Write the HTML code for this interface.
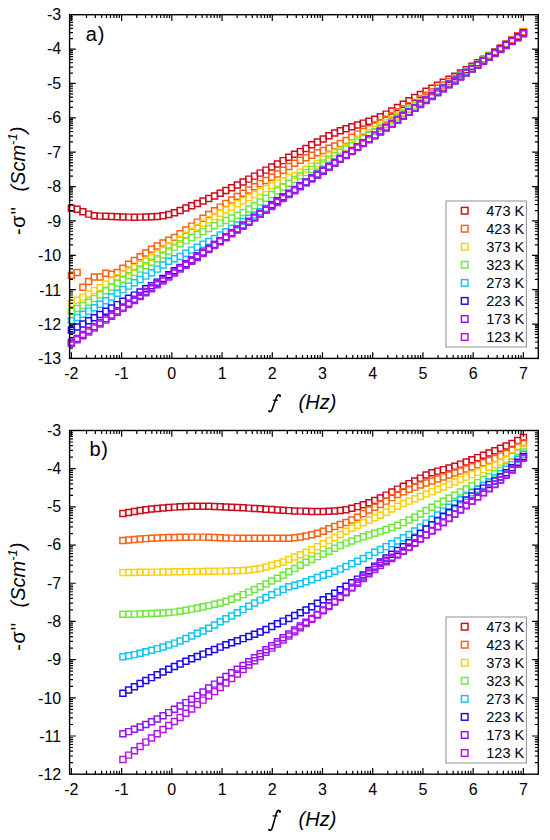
<!DOCTYPE html>
<html><head><meta charset="utf-8"><style>
html,body{margin:0;padding:0;background:#fff;overflow:hidden}
svg{display:block}
text{font-family:"Liberation Sans",sans-serif;fill:#000}
.tl{font-size:16px}
.lg{font-size:14.5px}
.pl{font-size:20px}
.fl{font-family:"Liberation Serif",serif;font-style:italic;font-size:20px}
.hz{font-style:italic;font-size:20px}
.yl{font-size:20px}
</style></head><body>
<svg width="550" height="840" viewBox="0 0 550 840">
<rect width="550" height="840" fill="#fff"/>
<path d="M68.4 205.2h6.0v6.0h-6.0zM74.1 206.3h6.0v6.0h-6.0zM79.9 208.7h6.0v6.0h-6.0zM85.6 211.1h6.0v6.0h-6.0zM91.3 212.8h6.0v6.0h-6.0zM97.0 213.1h6.0v6.0h-6.0zM102.8 213.3h6.0v6.0h-6.0zM108.5 213.5h6.0v6.0h-6.0zM114.2 213.7h6.0v6.0h-6.0zM119.9 214.0h6.0v6.0h-6.0zM125.6 214.1h6.0v6.0h-6.0zM131.4 214.2h6.0v6.0h-6.0zM137.1 214.1h6.0v6.0h-6.0zM142.8 214.0h6.0v6.0h-6.0zM148.5 213.8h6.0v6.0h-6.0zM154.2 213.5h6.0v6.0h-6.0zM160.0 212.8h6.0v6.0h-6.0zM165.7 211.5h6.0v6.0h-6.0zM171.4 209.7h6.0v6.0h-6.0zM177.1 207.5h6.0v6.0h-6.0zM182.9 205.0h6.0v6.0h-6.0zM188.6 202.7h6.0v6.0h-6.0zM194.3 200.4h6.0v6.0h-6.0zM200.0 198.0h6.0v6.0h-6.0zM205.7 195.5h6.0v6.0h-6.0zM211.5 192.9h6.0v6.0h-6.0zM217.2 190.2h6.0v6.0h-6.0zM222.9 187.5h6.0v6.0h-6.0zM228.6 184.7h6.0v6.0h-6.0zM234.3 181.9h6.0v6.0h-6.0zM240.1 179.0h6.0v6.0h-6.0zM245.8 176.1h6.0v6.0h-6.0zM251.5 173.1h6.0v6.0h-6.0zM257.2 170.1h6.0v6.0h-6.0zM262.9 167.1h6.0v6.0h-6.0zM268.7 164.0h6.0v6.0h-6.0zM274.4 160.9h6.0v6.0h-6.0zM280.1 157.6h6.0v6.0h-6.0zM285.8 154.3h6.0v6.0h-6.0zM291.6 151.3h6.0v6.0h-6.0zM297.3 148.6h6.0v6.0h-6.0zM303.0 145.4h6.0v6.0h-6.0zM308.7 141.8h6.0v6.0h-6.0zM314.4 139.0h6.0v6.0h-6.0zM320.2 135.9h6.0v6.0h-6.0zM325.9 132.8h6.0v6.0h-6.0zM331.6 129.9h6.0v6.0h-6.0zM337.3 127.7h6.0v6.0h-6.0zM343.0 125.7h6.0v6.0h-6.0zM348.8 123.8h6.0v6.0h-6.0zM354.5 122.0h6.0v6.0h-6.0zM360.2 120.1h6.0v6.0h-6.0zM365.9 118.2h6.0v6.0h-6.0zM371.7 116.2h6.0v6.0h-6.0zM377.4 113.8h6.0v6.0h-6.0zM383.1 111.1h6.0v6.0h-6.0zM388.8 107.9h6.0v6.0h-6.0zM394.5 104.5h6.0v6.0h-6.0zM400.3 101.2h6.0v6.0h-6.0zM406.0 97.8h6.0v6.0h-6.0zM411.7 94.5h6.0v6.0h-6.0zM417.4 91.4h6.0v6.0h-6.0zM423.1 88.3h6.0v6.0h-6.0zM428.9 85.2h6.0v6.0h-6.0zM434.6 82.2h6.0v6.0h-6.0zM440.3 79.2h6.0v6.0h-6.0zM446.0 76.3h6.0v6.0h-6.0zM451.7 73.2h6.0v6.0h-6.0zM457.5 70.0h6.0v6.0h-6.0zM463.2 66.6h6.0v6.0h-6.0zM468.9 63.2h6.0v6.0h-6.0zM474.6 59.8h6.0v6.0h-6.0zM480.4 56.2h6.0v6.0h-6.0zM486.1 52.5h6.0v6.0h-6.0zM491.8 48.8h6.0v6.0h-6.0zM497.5 45.0h6.0v6.0h-6.0zM503.2 41.0h6.0v6.0h-6.0zM509.0 37.0h6.0v6.0h-6.0zM514.7 32.8h6.0v6.0h-6.0zM520.4 28.6h6.0v6.0h-6.0z" fill="none" stroke="#cc0a1e" stroke-width="1.45"/><path d="M68.4 272.2h6.0v6.0h-6.0zM74.1 269.5h6.0v6.0h-6.0zM79.9 284.3h6.0v6.0h-6.0zM85.6 278.4h6.0v6.0h-6.0zM91.3 274.0h6.0v6.0h-6.0zM97.0 274.0h6.0v6.0h-6.0zM102.8 270.2h6.0v6.0h-6.0zM108.5 271.2h6.0v6.0h-6.0zM114.2 269.5h6.0v6.0h-6.0zM119.9 265.2h6.0v6.0h-6.0zM125.6 261.2h6.0v6.0h-6.0zM131.4 257.5h6.0v6.0h-6.0zM137.1 253.7h6.0v6.0h-6.0zM142.8 249.9h6.0v6.0h-6.0zM148.5 246.3h6.0v6.0h-6.0zM154.2 243.0h6.0v6.0h-6.0zM160.0 239.9h6.0v6.0h-6.0zM165.7 237.3h6.0v6.0h-6.0zM171.4 234.4h6.0v6.0h-6.0zM177.1 230.8h6.0v6.0h-6.0zM182.9 226.9h6.0v6.0h-6.0zM188.6 223.1h6.0v6.0h-6.0zM194.3 219.1h6.0v6.0h-6.0zM200.0 215.2h6.0v6.0h-6.0zM205.7 211.4h6.0v6.0h-6.0zM211.5 207.7h6.0v6.0h-6.0zM217.2 204.1h6.0v6.0h-6.0zM222.9 200.5h6.0v6.0h-6.0zM228.6 197.0h6.0v6.0h-6.0zM234.3 193.5h6.0v6.0h-6.0zM240.1 190.2h6.0v6.0h-6.0zM245.8 187.0h6.0v6.0h-6.0zM251.5 183.8h6.0v6.0h-6.0zM257.2 180.6h6.0v6.0h-6.0zM262.9 177.4h6.0v6.0h-6.0zM268.7 174.2h6.0v6.0h-6.0zM274.4 170.9h6.0v6.0h-6.0zM280.1 167.2h6.0v6.0h-6.0zM285.8 163.5h6.0v6.0h-6.0zM291.6 160.2h6.0v6.0h-6.0zM297.3 157.3h6.0v6.0h-6.0zM303.0 154.7h6.0v6.0h-6.0zM308.7 152.2h6.0v6.0h-6.0zM314.4 149.8h6.0v6.0h-6.0zM320.2 147.5h6.0v6.0h-6.0zM325.9 145.3h6.0v6.0h-6.0zM331.6 143.0h6.0v6.0h-6.0zM337.3 140.4h6.0v6.0h-6.0zM343.0 137.5h6.0v6.0h-6.0zM348.8 134.3h6.0v6.0h-6.0zM354.5 131.1h6.0v6.0h-6.0zM360.2 128.4h6.0v6.0h-6.0zM365.9 125.7h6.0v6.0h-6.0zM371.7 122.9h6.0v6.0h-6.0zM377.4 119.8h6.0v6.0h-6.0zM383.1 116.3h6.0v6.0h-6.0zM388.8 112.5h6.0v6.0h-6.0zM394.5 108.8h6.0v6.0h-6.0zM400.3 105.6h6.0v6.0h-6.0zM406.0 102.6h6.0v6.0h-6.0zM411.7 99.4h6.0v6.0h-6.0zM417.4 95.9h6.0v6.0h-6.0zM423.1 92.3h6.0v6.0h-6.0zM428.9 88.7h6.0v6.0h-6.0zM434.6 85.2h6.0v6.0h-6.0zM440.3 81.9h6.0v6.0h-6.0zM446.0 78.6h6.0v6.0h-6.0zM451.7 75.2h6.0v6.0h-6.0zM457.5 71.7h6.0v6.0h-6.0zM463.2 68.1h6.0v6.0h-6.0zM468.9 64.4h6.0v6.0h-6.0zM474.6 60.7h6.0v6.0h-6.0zM480.4 57.0h6.0v6.0h-6.0zM486.1 53.2h6.0v6.0h-6.0zM491.8 49.3h6.0v6.0h-6.0zM497.5 45.4h6.0v6.0h-6.0zM503.2 41.4h6.0v6.0h-6.0zM509.0 37.3h6.0v6.0h-6.0zM514.7 33.1h6.0v6.0h-6.0zM520.4 28.9h6.0v6.0h-6.0z" fill="none" stroke="#ff6010" stroke-width="1.45"/><path d="M68.4 300.4h6.0v6.0h-6.0zM74.1 297.3h6.0v6.0h-6.0zM79.9 294.1h6.0v6.0h-6.0zM85.6 290.9h6.0v6.0h-6.0zM91.3 287.6h6.0v6.0h-6.0zM97.0 284.4h6.0v6.0h-6.0zM102.8 281.1h6.0v6.0h-6.0zM108.5 277.8h6.0v6.0h-6.0zM114.2 274.5h6.0v6.0h-6.0zM119.9 271.2h6.0v6.0h-6.0zM125.6 267.9h6.0v6.0h-6.0zM131.4 264.6h6.0v6.0h-6.0zM137.1 261.3h6.0v6.0h-6.0zM142.8 257.9h6.0v6.0h-6.0zM148.5 254.5h6.0v6.0h-6.0zM154.2 250.9h6.0v6.0h-6.0zM160.0 247.2h6.0v6.0h-6.0zM165.7 243.0h6.0v6.0h-6.0zM171.4 239.6h6.0v6.0h-6.0zM177.1 236.2h6.0v6.0h-6.0zM182.9 232.3h6.0v6.0h-6.0zM188.6 228.2h6.0v6.0h-6.0zM194.3 224.2h6.0v6.0h-6.0zM200.0 220.3h6.0v6.0h-6.0zM205.7 216.8h6.0v6.0h-6.0zM211.5 213.4h6.0v6.0h-6.0zM217.2 210.2h6.0v6.0h-6.0zM222.9 207.0h6.0v6.0h-6.0zM228.6 203.9h6.0v6.0h-6.0zM234.3 200.8h6.0v6.0h-6.0zM240.1 197.7h6.0v6.0h-6.0zM245.8 194.6h6.0v6.0h-6.0zM251.5 191.5h6.0v6.0h-6.0zM257.2 188.5h6.0v6.0h-6.0zM262.9 185.6h6.0v6.0h-6.0zM268.7 182.8h6.0v6.0h-6.0zM274.4 180.1h6.0v6.0h-6.0zM280.1 177.7h6.0v6.0h-6.0zM285.8 174.6h6.0v6.0h-6.0zM291.6 172.4h6.0v6.0h-6.0zM297.3 169.1h6.0v6.0h-6.0zM303.0 166.2h6.0v6.0h-6.0zM308.7 163.1h6.0v6.0h-6.0zM314.4 160.5h6.0v6.0h-6.0zM320.2 156.0h6.0v6.0h-6.0zM325.9 151.9h6.0v6.0h-6.0zM331.6 149.7h6.0v6.0h-6.0zM337.3 147.2h6.0v6.0h-6.0zM343.0 144.2h6.0v6.0h-6.0zM348.8 140.8h6.0v6.0h-6.0zM354.5 137.2h6.0v6.0h-6.0zM360.2 133.5h6.0v6.0h-6.0zM365.9 129.8h6.0v6.0h-6.0zM371.7 126.2h6.0v6.0h-6.0zM377.4 122.8h6.0v6.0h-6.0zM383.1 119.6h6.0v6.0h-6.0zM388.8 116.4h6.0v6.0h-6.0zM394.5 113.0h6.0v6.0h-6.0zM400.3 109.5h6.0v6.0h-6.0zM406.0 105.8h6.0v6.0h-6.0zM411.7 102.3h6.0v6.0h-6.0zM417.4 98.7h6.0v6.0h-6.0zM423.1 95.2h6.0v6.0h-6.0zM428.9 91.6h6.0v6.0h-6.0zM434.6 88.0h6.0v6.0h-6.0zM440.3 84.2h6.0v6.0h-6.0zM446.0 80.5h6.0v6.0h-6.0zM451.7 76.8h6.0v6.0h-6.0zM457.5 73.0h6.0v6.0h-6.0zM463.2 69.2h6.0v6.0h-6.0zM468.9 65.3h6.0v6.0h-6.0zM474.6 61.5h6.0v6.0h-6.0zM480.4 57.6h6.0v6.0h-6.0zM486.1 53.6h6.0v6.0h-6.0zM491.8 49.7h6.0v6.0h-6.0zM497.5 45.6h6.0v6.0h-6.0zM503.2 41.6h6.0v6.0h-6.0zM509.0 37.5h6.0v6.0h-6.0zM514.7 33.4h6.0v6.0h-6.0zM520.4 29.3h6.0v6.0h-6.0z" fill="none" stroke="#ffd000" stroke-width="1.45"/><path d="M68.4 308.3h6.0v6.0h-6.0zM74.1 305.5h6.0v6.0h-6.0zM79.9 302.5h6.0v6.0h-6.0zM85.6 299.2h6.0v6.0h-6.0zM91.3 295.6h6.0v6.0h-6.0zM97.0 291.8h6.0v6.0h-6.0zM102.8 287.8h6.0v6.0h-6.0zM108.5 283.9h6.0v6.0h-6.0zM114.2 280.0h6.0v6.0h-6.0zM119.9 276.3h6.0v6.0h-6.0zM125.6 272.7h6.0v6.0h-6.0zM131.4 269.4h6.0v6.0h-6.0zM137.1 266.0h6.0v6.0h-6.0zM142.8 262.7h6.0v6.0h-6.0zM148.5 259.3h6.0v6.0h-6.0zM154.2 255.7h6.0v6.0h-6.0zM160.0 252.0h6.0v6.0h-6.0zM165.7 247.9h6.0v6.0h-6.0zM171.4 244.1h6.0v6.0h-6.0zM177.1 240.7h6.0v6.0h-6.0zM182.9 237.6h6.0v6.0h-6.0zM188.6 234.6h6.0v6.0h-6.0zM194.3 231.6h6.0v6.0h-6.0zM200.0 228.6h6.0v6.0h-6.0zM205.7 225.5h6.0v6.0h-6.0zM211.5 222.7h6.0v6.0h-6.0zM217.2 220.1h6.0v6.0h-6.0zM222.9 217.5h6.0v6.0h-6.0zM228.6 215.0h6.0v6.0h-6.0zM234.3 212.3h6.0v6.0h-6.0zM240.1 209.4h6.0v6.0h-6.0zM245.8 206.0h6.0v6.0h-6.0zM251.5 202.5h6.0v6.0h-6.0zM257.2 198.9h6.0v6.0h-6.0zM262.9 195.2h6.0v6.0h-6.0zM268.7 191.4h6.0v6.0h-6.0zM274.4 187.7h6.0v6.0h-6.0zM280.1 184.0h6.0v6.0h-6.0zM285.8 180.2h6.0v6.0h-6.0zM291.6 176.5h6.0v6.0h-6.0zM297.3 172.9h6.0v6.0h-6.0zM303.0 169.6h6.0v6.0h-6.0zM308.7 166.4h6.0v6.0h-6.0zM314.4 163.3h6.0v6.0h-6.0zM320.2 159.9h6.0v6.0h-6.0zM325.9 156.2h6.0v6.0h-6.0zM331.6 152.7h6.0v6.0h-6.0zM337.3 149.3h6.0v6.0h-6.0zM343.0 146.0h6.0v6.0h-6.0zM348.8 142.6h6.0v6.0h-6.0zM354.5 139.1h6.0v6.0h-6.0zM360.2 135.6h6.0v6.0h-6.0zM365.9 132.1h6.0v6.0h-6.0zM371.7 128.6h6.0v6.0h-6.0zM377.4 125.0h6.0v6.0h-6.0zM383.1 121.4h6.0v6.0h-6.0zM388.8 117.7h6.0v6.0h-6.0zM394.5 114.1h6.0v6.0h-6.0zM400.3 110.4h6.0v6.0h-6.0zM406.0 106.7h6.0v6.0h-6.0zM411.7 103.0h6.0v6.0h-6.0zM417.4 99.3h6.0v6.0h-6.0zM423.1 95.6h6.0v6.0h-6.0zM428.9 91.8h6.0v6.0h-6.0zM434.6 88.0h6.0v6.0h-6.0zM440.3 84.2h6.0v6.0h-6.0zM446.0 80.4h6.0v6.0h-6.0zM451.7 76.5h6.0v6.0h-6.0zM457.5 72.7h6.0v6.0h-6.0zM463.2 68.8h6.0v6.0h-6.0zM468.9 65.0h6.0v6.0h-6.0zM474.6 61.1h6.0v6.0h-6.0zM480.4 57.2h6.0v6.0h-6.0zM486.1 53.3h6.0v6.0h-6.0zM491.8 49.4h6.0v6.0h-6.0zM497.5 45.5h6.0v6.0h-6.0zM503.2 41.5h6.0v6.0h-6.0zM509.0 37.6h6.0v6.0h-6.0zM514.7 33.6h6.0v6.0h-6.0zM520.4 29.6h6.0v6.0h-6.0z" fill="none" stroke="#6ee83c" stroke-width="1.45"/><path d="M68.4 317.6h6.0v6.0h-6.0zM74.1 314.5h6.0v6.0h-6.0zM79.9 311.3h6.0v6.0h-6.0zM85.6 308.1h6.0v6.0h-6.0zM91.3 304.7h6.0v6.0h-6.0zM97.0 301.3h6.0v6.0h-6.0zM102.8 297.7h6.0v6.0h-6.0zM108.5 294.0h6.0v6.0h-6.0zM114.2 290.2h6.0v6.0h-6.0zM119.9 286.6h6.0v6.0h-6.0zM125.6 283.1h6.0v6.0h-6.0zM131.4 279.8h6.0v6.0h-6.0zM137.1 276.5h6.0v6.0h-6.0zM142.8 273.1h6.0v6.0h-6.0zM148.5 269.7h6.0v6.0h-6.0zM154.2 266.1h6.0v6.0h-6.0zM160.0 261.9h6.0v6.0h-6.0zM165.7 258.2h6.0v6.0h-6.0zM171.4 255.7h6.0v6.0h-6.0zM177.1 253.4h6.0v6.0h-6.0zM182.9 250.3h6.0v6.0h-6.0zM188.6 247.1h6.0v6.0h-6.0zM194.3 244.2h6.0v6.0h-6.0zM200.0 241.3h6.0v6.0h-6.0zM205.7 238.5h6.0v6.0h-6.0zM211.5 235.5h6.0v6.0h-6.0zM217.2 232.0h6.0v6.0h-6.0zM222.9 228.7h6.0v6.0h-6.0zM228.6 225.3h6.0v6.0h-6.0zM234.3 222.0h6.0v6.0h-6.0zM240.1 218.6h6.0v6.0h-6.0zM245.8 215.3h6.0v6.0h-6.0zM251.5 212.0h6.0v6.0h-6.0zM257.2 208.6h6.0v6.0h-6.0zM262.9 205.1h6.0v6.0h-6.0zM268.7 201.4h6.0v6.0h-6.0zM274.4 197.7h6.0v6.0h-6.0zM280.1 193.9h6.0v6.0h-6.0zM285.8 190.1h6.0v6.0h-6.0zM291.6 186.3h6.0v6.0h-6.0zM297.3 182.5h6.0v6.0h-6.0zM303.0 178.6h6.0v6.0h-6.0zM308.7 174.7h6.0v6.0h-6.0zM314.4 170.9h6.0v6.0h-6.0zM320.2 167.0h6.0v6.0h-6.0zM325.9 163.1h6.0v6.0h-6.0zM331.6 159.3h6.0v6.0h-6.0zM337.3 155.4h6.0v6.0h-6.0zM343.0 151.5h6.0v6.0h-6.0zM348.8 147.6h6.0v6.0h-6.0zM354.5 143.8h6.0v6.0h-6.0zM360.2 139.9h6.0v6.0h-6.0zM365.9 136.0h6.0v6.0h-6.0zM371.7 132.1h6.0v6.0h-6.0zM377.4 128.2h6.0v6.0h-6.0zM383.1 124.3h6.0v6.0h-6.0zM388.8 120.4h6.0v6.0h-6.0zM394.5 116.5h6.0v6.0h-6.0zM400.3 112.6h6.0v6.0h-6.0zM406.0 108.6h6.0v6.0h-6.0zM411.7 104.7h6.0v6.0h-6.0zM417.4 100.8h6.0v6.0h-6.0zM423.1 96.9h6.0v6.0h-6.0zM428.9 92.9h6.0v6.0h-6.0zM434.6 89.0h6.0v6.0h-6.0zM440.3 85.1h6.0v6.0h-6.0zM446.0 81.1h6.0v6.0h-6.0zM451.7 77.2h6.0v6.0h-6.0zM457.5 73.3h6.0v6.0h-6.0zM463.2 69.3h6.0v6.0h-6.0zM468.9 65.4h6.0v6.0h-6.0zM474.6 61.4h6.0v6.0h-6.0zM480.4 57.5h6.0v6.0h-6.0zM486.1 53.5h6.0v6.0h-6.0zM491.8 49.6h6.0v6.0h-6.0zM497.5 45.6h6.0v6.0h-6.0zM503.2 41.7h6.0v6.0h-6.0zM509.0 37.7h6.0v6.0h-6.0zM514.7 33.7h6.0v6.0h-6.0zM520.4 29.8h6.0v6.0h-6.0z" fill="none" stroke="#10c4f4" stroke-width="1.45"/><path d="M68.4 326.9h6.0v6.0h-6.0zM74.1 323.9h6.0v6.0h-6.0zM79.9 320.9h6.0v6.0h-6.0zM85.6 317.8h6.0v6.0h-6.0zM91.3 314.7h6.0v6.0h-6.0zM97.0 311.5h6.0v6.0h-6.0zM102.8 308.3h6.0v6.0h-6.0zM108.5 304.9h6.0v6.0h-6.0zM114.2 301.6h6.0v6.0h-6.0zM119.9 298.3h6.0v6.0h-6.0zM125.6 295.2h6.0v6.0h-6.0zM131.4 292.1h6.0v6.0h-6.0zM137.1 289.0h6.0v6.0h-6.0zM142.8 285.8h6.0v6.0h-6.0zM148.5 282.6h6.0v6.0h-6.0zM154.2 279.1h6.0v6.0h-6.0zM160.0 275.4h6.0v6.0h-6.0zM165.7 271.6h6.0v6.0h-6.0zM171.4 267.8h6.0v6.0h-6.0zM177.1 264.4h6.0v6.0h-6.0zM182.9 260.7h6.0v6.0h-6.0zM188.6 256.9h6.0v6.0h-6.0zM194.3 253.0h6.0v6.0h-6.0zM200.0 249.2h6.0v6.0h-6.0zM205.7 245.4h6.0v6.0h-6.0zM211.5 241.7h6.0v6.0h-6.0zM217.2 237.9h6.0v6.0h-6.0zM222.9 234.1h6.0v6.0h-6.0zM228.6 230.2h6.0v6.0h-6.0zM234.3 226.4h6.0v6.0h-6.0zM240.1 222.8h6.0v6.0h-6.0zM245.8 219.3h6.0v6.0h-6.0zM251.5 214.5h6.0v6.0h-6.0zM257.2 210.7h6.0v6.0h-6.0zM262.9 206.4h6.0v6.0h-6.0zM268.7 201.9h6.0v6.0h-6.0zM274.4 197.7h6.0v6.0h-6.0zM280.1 193.9h6.0v6.0h-6.0zM285.8 190.4h6.0v6.0h-6.0zM291.6 186.7h6.0v6.0h-6.0zM297.3 182.7h6.0v6.0h-6.0zM303.0 179.5h6.0v6.0h-6.0zM308.7 175.2h6.0v6.0h-6.0zM314.4 171.9h6.0v6.0h-6.0zM320.2 168.2h6.0v6.0h-6.0zM325.9 164.3h6.0v6.0h-6.0zM331.6 160.2h6.0v6.0h-6.0zM337.3 156.1h6.0v6.0h-6.0zM343.0 152.0h6.0v6.0h-6.0zM348.8 148.1h6.0v6.0h-6.0zM354.5 144.2h6.0v6.0h-6.0zM360.2 140.2h6.0v6.0h-6.0zM365.9 136.3h6.0v6.0h-6.0zM371.7 132.4h6.0v6.0h-6.0zM377.4 128.5h6.0v6.0h-6.0zM383.1 124.6h6.0v6.0h-6.0zM388.8 120.7h6.0v6.0h-6.0zM394.5 116.8h6.0v6.0h-6.0zM400.3 112.9h6.0v6.0h-6.0zM406.0 109.0h6.0v6.0h-6.0zM411.7 105.1h6.0v6.0h-6.0zM417.4 101.1h6.0v6.0h-6.0zM423.1 97.2h6.0v6.0h-6.0zM428.9 93.3h6.0v6.0h-6.0zM434.6 89.4h6.0v6.0h-6.0zM440.3 85.4h6.0v6.0h-6.0zM446.0 81.5h6.0v6.0h-6.0zM451.7 77.5h6.0v6.0h-6.0zM457.5 73.6h6.0v6.0h-6.0zM463.2 69.6h6.0v6.0h-6.0zM468.9 65.7h6.0v6.0h-6.0zM474.6 61.7h6.0v6.0h-6.0zM480.4 57.8h6.0v6.0h-6.0zM486.1 53.8h6.0v6.0h-6.0zM491.8 49.8h6.0v6.0h-6.0zM497.5 45.9h6.0v6.0h-6.0zM503.2 41.9h6.0v6.0h-6.0zM509.0 37.9h6.0v6.0h-6.0zM514.7 33.9h6.0v6.0h-6.0zM520.4 29.9h6.0v6.0h-6.0z" fill="none" stroke="#1a08f0" stroke-width="1.45"/><path d="M68.4 339.3h6.0v6.0h-6.0zM74.1 335.4h6.0v6.0h-6.0zM79.9 331.5h6.0v6.0h-6.0zM85.6 327.5h6.0v6.0h-6.0zM91.3 323.6h6.0v6.0h-6.0zM97.0 319.7h6.0v6.0h-6.0zM102.8 315.8h6.0v6.0h-6.0zM108.5 311.9h6.0v6.0h-6.0zM114.2 308.0h6.0v6.0h-6.0zM119.9 304.1h6.0v6.0h-6.0zM125.6 300.2h6.0v6.0h-6.0zM131.4 296.3h6.0v6.0h-6.0zM137.1 292.4h6.0v6.0h-6.0zM142.8 288.5h6.0v6.0h-6.0zM148.5 284.5h6.0v6.0h-6.0zM154.2 280.6h6.0v6.0h-6.0zM160.0 276.7h6.0v6.0h-6.0zM165.7 272.8h6.0v6.0h-6.0zM171.4 268.9h6.0v6.0h-6.0zM177.1 265.0h6.0v6.0h-6.0zM182.9 261.1h6.0v6.0h-6.0zM188.6 257.2h6.0v6.0h-6.0zM194.3 253.3h6.0v6.0h-6.0zM200.0 249.4h6.0v6.0h-6.0zM205.7 245.5h6.0v6.0h-6.0zM211.5 241.5h6.0v6.0h-6.0zM217.2 237.6h6.0v6.0h-6.0zM222.9 233.7h6.0v6.0h-6.0zM228.6 229.8h6.0v6.0h-6.0zM234.3 225.9h6.0v6.0h-6.0zM240.1 222.0h6.0v6.0h-6.0zM245.8 218.1h6.0v6.0h-6.0zM251.5 214.2h6.0v6.0h-6.0zM257.2 210.3h6.0v6.0h-6.0zM262.9 206.4h6.0v6.0h-6.0zM268.7 202.5h6.0v6.0h-6.0zM274.4 198.5h6.0v6.0h-6.0zM280.1 194.6h6.0v6.0h-6.0zM285.8 190.7h6.0v6.0h-6.0zM291.6 186.8h6.0v6.0h-6.0zM297.3 182.9h6.0v6.0h-6.0zM303.0 179.0h6.0v6.0h-6.0zM308.7 175.1h6.0v6.0h-6.0zM314.4 171.2h6.0v6.0h-6.0zM320.2 167.3h6.0v6.0h-6.0zM325.9 163.4h6.0v6.0h-6.0zM331.6 159.5h6.0v6.0h-6.0zM337.3 155.5h6.0v6.0h-6.0zM343.0 151.6h6.0v6.0h-6.0zM348.8 147.7h6.0v6.0h-6.0zM354.5 143.8h6.0v6.0h-6.0zM360.2 139.9h6.0v6.0h-6.0zM365.9 136.0h6.0v6.0h-6.0zM371.7 132.1h6.0v6.0h-6.0zM377.4 128.2h6.0v6.0h-6.0zM383.1 124.3h6.0v6.0h-6.0zM388.8 120.4h6.0v6.0h-6.0zM394.5 116.5h6.0v6.0h-6.0zM400.3 112.5h6.0v6.0h-6.0zM406.0 108.6h6.0v6.0h-6.0zM411.7 104.7h6.0v6.0h-6.0zM417.4 100.8h6.0v6.0h-6.0zM423.1 96.9h6.0v6.0h-6.0zM428.9 93.0h6.0v6.0h-6.0zM434.6 89.1h6.0v6.0h-6.0zM440.3 85.2h6.0v6.0h-6.0zM446.0 81.3h6.0v6.0h-6.0zM451.7 77.4h6.0v6.0h-6.0zM457.5 73.5h6.0v6.0h-6.0zM463.2 69.5h6.0v6.0h-6.0zM468.9 65.6h6.0v6.0h-6.0zM474.6 61.7h6.0v6.0h-6.0zM480.4 57.8h6.0v6.0h-6.0zM486.1 53.9h6.0v6.0h-6.0zM491.8 50.0h6.0v6.0h-6.0zM497.5 46.1h6.0v6.0h-6.0zM503.2 42.2h6.0v6.0h-6.0zM509.0 38.3h6.0v6.0h-6.0zM514.7 34.4h6.0v6.0h-6.0zM520.4 30.5h6.0v6.0h-6.0z" fill="none" stroke="#8c14f5" stroke-width="1.45"/><path d="M68.4 340.6h6.0v6.0h-6.0zM74.1 336.7h6.0v6.0h-6.0zM79.9 332.8h6.0v6.0h-6.0zM85.6 328.9h6.0v6.0h-6.0zM91.3 325.0h6.0v6.0h-6.0zM97.0 321.0h6.0v6.0h-6.0zM102.8 317.1h6.0v6.0h-6.0zM108.5 313.2h6.0v6.0h-6.0zM114.2 309.3h6.0v6.0h-6.0zM119.9 305.3h6.0v6.0h-6.0zM125.6 301.4h6.0v6.0h-6.0zM131.4 297.5h6.0v6.0h-6.0zM137.1 293.6h6.0v6.0h-6.0zM142.8 289.7h6.0v6.0h-6.0zM148.5 285.7h6.0v6.0h-6.0zM154.2 281.8h6.0v6.0h-6.0zM160.0 277.9h6.0v6.0h-6.0zM165.7 274.0h6.0v6.0h-6.0zM171.4 270.0h6.0v6.0h-6.0zM177.1 266.1h6.0v6.0h-6.0zM182.9 262.2h6.0v6.0h-6.0zM188.6 258.3h6.0v6.0h-6.0zM194.3 254.4h6.0v6.0h-6.0zM200.0 250.4h6.0v6.0h-6.0zM205.7 246.5h6.0v6.0h-6.0zM211.5 242.6h6.0v6.0h-6.0zM217.2 238.7h6.0v6.0h-6.0zM222.9 234.7h6.0v6.0h-6.0zM228.6 230.8h6.0v6.0h-6.0zM234.3 226.9h6.0v6.0h-6.0zM240.1 223.0h6.0v6.0h-6.0zM245.8 219.1h6.0v6.0h-6.0zM251.5 215.1h6.0v6.0h-6.0zM257.2 211.2h6.0v6.0h-6.0zM262.9 207.3h6.0v6.0h-6.0zM268.7 203.4h6.0v6.0h-6.0zM274.4 199.5h6.0v6.0h-6.0zM280.1 195.5h6.0v6.0h-6.0zM285.8 191.6h6.0v6.0h-6.0zM291.6 187.7h6.0v6.0h-6.0zM297.3 183.8h6.0v6.0h-6.0zM303.0 179.8h6.0v6.0h-6.0zM308.7 175.9h6.0v6.0h-6.0zM314.4 172.0h6.0v6.0h-6.0zM320.2 168.1h6.0v6.0h-6.0zM325.9 164.2h6.0v6.0h-6.0zM331.6 160.2h6.0v6.0h-6.0zM337.3 156.3h6.0v6.0h-6.0zM343.0 152.4h6.0v6.0h-6.0zM348.8 148.5h6.0v6.0h-6.0zM354.5 144.5h6.0v6.0h-6.0zM360.2 140.6h6.0v6.0h-6.0zM365.9 136.7h6.0v6.0h-6.0zM371.7 132.8h6.0v6.0h-6.0zM377.4 128.9h6.0v6.0h-6.0zM383.1 124.9h6.0v6.0h-6.0zM388.8 121.0h6.0v6.0h-6.0zM394.5 117.1h6.0v6.0h-6.0zM400.3 113.2h6.0v6.0h-6.0zM406.0 109.2h6.0v6.0h-6.0zM411.7 105.3h6.0v6.0h-6.0zM417.4 101.4h6.0v6.0h-6.0zM423.1 97.5h6.0v6.0h-6.0zM428.9 93.6h6.0v6.0h-6.0zM434.6 89.6h6.0v6.0h-6.0zM440.3 85.7h6.0v6.0h-6.0zM446.0 81.8h6.0v6.0h-6.0zM451.7 77.9h6.0v6.0h-6.0zM457.5 73.9h6.0v6.0h-6.0zM463.2 70.0h6.0v6.0h-6.0zM468.9 66.1h6.0v6.0h-6.0zM474.6 62.2h6.0v6.0h-6.0zM480.4 58.3h6.0v6.0h-6.0zM486.1 54.3h6.0v6.0h-6.0zM491.8 50.4h6.0v6.0h-6.0zM497.5 46.5h6.0v6.0h-6.0zM503.2 42.6h6.0v6.0h-6.0zM509.0 38.6h6.0v6.0h-6.0zM514.7 34.7h6.0v6.0h-6.0zM520.4 30.8h6.0v6.0h-6.0z" fill="none" stroke="#b414e6" stroke-width="1.45"/><rect x="69.6" y="14.7" width="468.7" height="343.7" fill="none" stroke="#000" stroke-width="1.4"/><path d="M71.40 358.40v-6.2M71.40 14.70v6.2M86.52 358.40v-3.4M86.52 14.70v3.4M95.36 358.40v-3.4M95.36 14.70v3.4M101.64 358.40v-3.4M101.64 14.70v3.4M106.50 358.40v-3.4M106.50 14.70v3.4M110.48 358.40v-3.4M110.48 14.70v3.4M113.84 358.40v-3.4M113.84 14.70v3.4M116.75 358.40v-3.4M116.75 14.70v3.4M119.32 358.40v-3.4M119.32 14.70v3.4M121.62 358.40v-6.2M121.62 14.70v6.2M136.74 358.40v-3.4M136.74 14.70v3.4M145.58 358.40v-3.4M145.58 14.70v3.4M151.86 358.40v-3.4M151.86 14.70v3.4M156.72 358.40v-3.4M156.72 14.70v3.4M160.70 358.40v-3.4M160.70 14.70v3.4M164.06 358.40v-3.4M164.06 14.70v3.4M166.97 358.40v-3.4M166.97 14.70v3.4M169.54 358.40v-3.4M169.54 14.70v3.4M171.84 358.40v-6.2M171.84 14.70v6.2M186.96 358.40v-3.4M186.96 14.70v3.4M195.80 358.40v-3.4M195.80 14.70v3.4M202.08 358.40v-3.4M202.08 14.70v3.4M206.94 358.40v-3.4M206.94 14.70v3.4M210.92 358.40v-3.4M210.92 14.70v3.4M214.28 358.40v-3.4M214.28 14.70v3.4M217.19 358.40v-3.4M217.19 14.70v3.4M219.76 358.40v-3.4M219.76 14.70v3.4M222.06 358.40v-6.2M222.06 14.70v6.2M237.18 358.40v-3.4M237.18 14.70v3.4M246.02 358.40v-3.4M246.02 14.70v3.4M252.30 358.40v-3.4M252.30 14.70v3.4M257.16 358.40v-3.4M257.16 14.70v3.4M261.14 358.40v-3.4M261.14 14.70v3.4M264.50 358.40v-3.4M264.50 14.70v3.4M267.41 358.40v-3.4M267.41 14.70v3.4M269.98 358.40v-3.4M269.98 14.70v3.4M272.28 358.40v-6.2M272.28 14.70v6.2M287.40 358.40v-3.4M287.40 14.70v3.4M296.24 358.40v-3.4M296.24 14.70v3.4M302.52 358.40v-3.4M302.52 14.70v3.4M307.38 358.40v-3.4M307.38 14.70v3.4M311.36 358.40v-3.4M311.36 14.70v3.4M314.72 358.40v-3.4M314.72 14.70v3.4M317.63 358.40v-3.4M317.63 14.70v3.4M320.20 358.40v-3.4M320.20 14.70v3.4M322.50 358.40v-6.2M322.50 14.70v6.2M337.62 358.40v-3.4M337.62 14.70v3.4M346.46 358.40v-3.4M346.46 14.70v3.4M352.74 358.40v-3.4M352.74 14.70v3.4M357.60 358.40v-3.4M357.60 14.70v3.4M361.58 358.40v-3.4M361.58 14.70v3.4M364.94 358.40v-3.4M364.94 14.70v3.4M367.85 358.40v-3.4M367.85 14.70v3.4M370.42 358.40v-3.4M370.42 14.70v3.4M372.72 358.40v-6.2M372.72 14.70v6.2M387.84 358.40v-3.4M387.84 14.70v3.4M396.68 358.40v-3.4M396.68 14.70v3.4M402.96 358.40v-3.4M402.96 14.70v3.4M407.82 358.40v-3.4M407.82 14.70v3.4M411.80 358.40v-3.4M411.80 14.70v3.4M415.16 358.40v-3.4M415.16 14.70v3.4M418.07 358.40v-3.4M418.07 14.70v3.4M420.64 358.40v-3.4M420.64 14.70v3.4M422.94 358.40v-6.2M422.94 14.70v6.2M438.06 358.40v-3.4M438.06 14.70v3.4M446.90 358.40v-3.4M446.90 14.70v3.4M453.18 358.40v-3.4M453.18 14.70v3.4M458.04 358.40v-3.4M458.04 14.70v3.4M462.02 358.40v-3.4M462.02 14.70v3.4M465.38 358.40v-3.4M465.38 14.70v3.4M468.29 358.40v-3.4M468.29 14.70v3.4M470.86 358.40v-3.4M470.86 14.70v3.4M473.16 358.40v-6.2M473.16 14.70v6.2M488.28 358.40v-3.4M488.28 14.70v3.4M497.12 358.40v-3.4M497.12 14.70v3.4M503.40 358.40v-3.4M503.40 14.70v3.4M508.26 358.40v-3.4M508.26 14.70v3.4M512.24 358.40v-3.4M512.24 14.70v3.4M515.60 358.40v-3.4M515.60 14.70v3.4M518.51 358.40v-3.4M518.51 14.70v3.4M521.08 358.40v-3.4M521.08 14.70v3.4M523.38 358.40v-6.2M523.38 14.70v6.2M69.60 348.05h3.4M538.30 348.05h-3.4M69.60 342.00h3.4M538.30 342.00h-3.4M69.60 337.71h3.4M538.30 337.71h-3.4M69.60 334.38h3.4M538.30 334.38h-3.4M69.60 331.65h3.4M538.30 331.65h-3.4M69.60 329.35h3.4M538.30 329.35h-3.4M69.60 327.36h3.4M538.30 327.36h-3.4M69.60 325.60h3.4M538.30 325.60h-3.4M69.60 324.03h6.2M538.30 324.03h-6.2M69.60 313.68h3.4M538.30 313.68h-3.4M69.60 307.63h3.4M538.30 307.63h-3.4M69.60 303.34h3.4M538.30 303.34h-3.4M69.60 300.01h3.4M538.30 300.01h-3.4M69.60 297.28h3.4M538.30 297.28h-3.4M69.60 294.98h3.4M538.30 294.98h-3.4M69.60 292.99h3.4M538.30 292.99h-3.4M69.60 291.23h3.4M538.30 291.23h-3.4M69.60 289.66h6.2M538.30 289.66h-6.2M69.60 279.31h3.4M538.30 279.31h-3.4M69.60 273.26h3.4M538.30 273.26h-3.4M69.60 268.97h3.4M538.30 268.97h-3.4M69.60 265.64h3.4M538.30 265.64h-3.4M69.60 262.91h3.4M538.30 262.91h-3.4M69.60 260.61h3.4M538.30 260.61h-3.4M69.60 258.62h3.4M538.30 258.62h-3.4M69.60 256.86h3.4M538.30 256.86h-3.4M69.60 255.29h6.2M538.30 255.29h-6.2M69.60 244.94h3.4M538.30 244.94h-3.4M69.60 238.89h3.4M538.30 238.89h-3.4M69.60 234.60h3.4M538.30 234.60h-3.4M69.60 231.27h3.4M538.30 231.27h-3.4M69.60 228.54h3.4M538.30 228.54h-3.4M69.60 226.24h3.4M538.30 226.24h-3.4M69.60 224.25h3.4M538.30 224.25h-3.4M69.60 222.49h3.4M538.30 222.49h-3.4M69.60 220.92h6.2M538.30 220.92h-6.2M69.60 210.57h3.4M538.30 210.57h-3.4M69.60 204.52h3.4M538.30 204.52h-3.4M69.60 200.23h3.4M538.30 200.23h-3.4M69.60 196.90h3.4M538.30 196.90h-3.4M69.60 194.17h3.4M538.30 194.17h-3.4M69.60 191.87h3.4M538.30 191.87h-3.4M69.60 189.88h3.4M538.30 189.88h-3.4M69.60 188.12h3.4M538.30 188.12h-3.4M69.60 186.55h6.2M538.30 186.55h-6.2M69.60 176.20h3.4M538.30 176.20h-3.4M69.60 170.15h3.4M538.30 170.15h-3.4M69.60 165.86h3.4M538.30 165.86h-3.4M69.60 162.53h3.4M538.30 162.53h-3.4M69.60 159.80h3.4M538.30 159.80h-3.4M69.60 157.50h3.4M538.30 157.50h-3.4M69.60 155.51h3.4M538.30 155.51h-3.4M69.60 153.75h3.4M538.30 153.75h-3.4M69.60 152.18h6.2M538.30 152.18h-6.2M69.60 141.83h3.4M538.30 141.83h-3.4M69.60 135.78h3.4M538.30 135.78h-3.4M69.60 131.49h3.4M538.30 131.49h-3.4M69.60 128.16h3.4M538.30 128.16h-3.4M69.60 125.43h3.4M538.30 125.43h-3.4M69.60 123.13h3.4M538.30 123.13h-3.4M69.60 121.14h3.4M538.30 121.14h-3.4M69.60 119.38h3.4M538.30 119.38h-3.4M69.60 117.81h6.2M538.30 117.81h-6.2M69.60 107.46h3.4M538.30 107.46h-3.4M69.60 101.41h3.4M538.30 101.41h-3.4M69.60 97.12h3.4M538.30 97.12h-3.4M69.60 93.79h3.4M538.30 93.79h-3.4M69.60 91.06h3.4M538.30 91.06h-3.4M69.60 88.76h3.4M538.30 88.76h-3.4M69.60 86.77h3.4M538.30 86.77h-3.4M69.60 85.01h3.4M538.30 85.01h-3.4M69.60 83.44h6.2M538.30 83.44h-6.2M69.60 73.09h3.4M538.30 73.09h-3.4M69.60 67.04h3.4M538.30 67.04h-3.4M69.60 62.75h3.4M538.30 62.75h-3.4M69.60 59.42h3.4M538.30 59.42h-3.4M69.60 56.69h3.4M538.30 56.69h-3.4M69.60 54.39h3.4M538.30 54.39h-3.4M69.60 52.40h3.4M538.30 52.40h-3.4M69.60 50.64h3.4M538.30 50.64h-3.4M69.60 49.07h6.2M538.30 49.07h-6.2M69.60 38.72h3.4M538.30 38.72h-3.4M69.60 32.67h3.4M538.30 32.67h-3.4M69.60 28.38h3.4M538.30 28.38h-3.4M69.60 25.05h3.4M538.30 25.05h-3.4M69.60 22.32h3.4M538.30 22.32h-3.4M69.60 20.02h3.4M538.30 20.02h-3.4M69.60 18.03h3.4M538.30 18.03h-3.4M69.60 16.27h3.4M538.30 16.27h-3.4" stroke="#000" stroke-width="1.2" fill="none"/><text x="71.4" y="379.1" text-anchor="middle" class="tl">-2</text><text x="121.6" y="379.1" text-anchor="middle" class="tl">-1</text><text x="171.8" y="379.1" text-anchor="middle" class="tl">0</text><text x="222.1" y="379.1" text-anchor="middle" class="tl">1</text><text x="272.3" y="379.1" text-anchor="middle" class="tl">2</text><text x="322.5" y="379.1" text-anchor="middle" class="tl">3</text><text x="372.7" y="379.1" text-anchor="middle" class="tl">4</text><text x="422.9" y="379.1" text-anchor="middle" class="tl">5</text><text x="473.2" y="379.1" text-anchor="middle" class="tl">6</text><text x="523.4" y="379.1" text-anchor="middle" class="tl">7</text><text x="61.2" y="364.4" text-anchor="end" class="tl">-13</text><text x="61.2" y="329.9" text-anchor="end" class="tl">-12</text><text x="61.2" y="295.5" text-anchor="end" class="tl">-11</text><text x="61.2" y="261.0" text-anchor="end" class="tl">-10</text><text x="61.2" y="226.5" text-anchor="end" class="tl">-9</text><text x="61.2" y="192.0" text-anchor="end" class="tl">-8</text><text x="61.2" y="157.6" text-anchor="end" class="tl">-7</text><text x="61.2" y="123.1" text-anchor="end" class="tl">-6</text><text x="61.2" y="88.6" text-anchor="end" class="tl">-5</text><text x="61.2" y="54.2" text-anchor="end" class="tl">-4</text><text x="61.2" y="19.7" text-anchor="end" class="tl">-3</text><rect x="446" y="201" width="80.4" height="146" fill="#fff" stroke="#999" stroke-width="1.1"/><rect x="461.4" y="207.4" width="6.6" height="6.6" fill="none" stroke="#cc0a1e" stroke-width="1.45"/><text x="524.2" y="215.7" text-anchor="end" class="lg">473 K</text><rect x="461.4" y="225.4" width="6.6" height="6.6" fill="none" stroke="#ff6010" stroke-width="1.45"/><text x="524.2" y="233.8" text-anchor="end" class="lg">423 K</text><rect x="461.4" y="243.5" width="6.6" height="6.6" fill="none" stroke="#ffd000" stroke-width="1.45"/><text x="524.2" y="251.8" text-anchor="end" class="lg">373 K</text><rect x="461.4" y="261.5" width="6.6" height="6.6" fill="none" stroke="#6ee83c" stroke-width="1.45"/><text x="524.2" y="269.9" text-anchor="end" class="lg">323 K</text><rect x="461.4" y="279.6" width="6.6" height="6.6" fill="none" stroke="#10c4f4" stroke-width="1.45"/><text x="524.2" y="287.9" text-anchor="end" class="lg">273 K</text><rect x="461.4" y="297.6" width="6.6" height="6.6" fill="none" stroke="#1a08f0" stroke-width="1.45"/><text x="524.2" y="305.9" text-anchor="end" class="lg">223 K</text><rect x="461.4" y="315.7" width="6.6" height="6.6" fill="none" stroke="#8c14f5" stroke-width="1.45"/><text x="524.2" y="324.0" text-anchor="end" class="lg">173 K</text><rect x="461.4" y="333.7" width="6.6" height="6.6" fill="none" stroke="#b414e6" stroke-width="1.45"/><text x="524.2" y="342.1" text-anchor="end" class="lg">123 K</text><text x="85.8" y="40.9" class="pl">a<tspan dx="0.8">)</tspan></text><path d="M268.9 411.2C270.2 412.4 271.6 411.4 272.3 409.0L276.3 397.8C276.9 395.8 277.9 394.6 279.0 394.7C279.8 394.8 280.3 395.3 280.3 395.9" fill="none" stroke="#000" stroke-width="1.55"/><circle cx="279.9" cy="396.1" r="1.1"/><circle cx="269.1" cy="411.0" r="1.05"/><path d="M272.8 400.2H277.8" stroke="#000" stroke-width="1.2"/><text x="298.6" y="408.6" class="hz">(Hz)</text><text transform="translate(25.0 235.0) rotate(-90)" class="yl">-<tspan dx="0.6">σ</tspan><tspan dx="0.8">''</tspan></text><text transform="translate(25.0 191.6) rotate(-90)" class="yl" font-style="italic">(Scm<tspan font-size="13" dy="-8.5">-1</tspan><tspan dy="8.5">)</tspan></text><path d="M119.9 510.5h6.0v6.0h-6.0zM125.6 509.4h6.0v6.0h-6.0zM131.4 508.4h6.0v6.0h-6.0zM137.1 507.5h6.0v6.0h-6.0zM142.8 506.7h6.0v6.0h-6.0zM148.5 506.0h6.0v6.0h-6.0zM154.2 505.4h6.0v6.0h-6.0zM160.0 504.9h6.0v6.0h-6.0zM165.7 504.5h6.0v6.0h-6.0zM171.4 504.1h6.0v6.0h-6.0zM177.1 503.8h6.0v6.0h-6.0zM182.9 503.5h6.0v6.0h-6.0zM188.6 503.3h6.0v6.0h-6.0zM194.3 503.2h6.0v6.0h-6.0zM200.0 503.2h6.0v6.0h-6.0zM205.7 503.3h6.0v6.0h-6.0zM211.5 503.4h6.0v6.0h-6.0zM217.2 503.7h6.0v6.0h-6.0zM222.9 504.0h6.0v6.0h-6.0zM228.6 504.2h6.0v6.0h-6.0zM234.3 504.5h6.0v6.0h-6.0zM240.1 504.8h6.0v6.0h-6.0zM245.8 505.1h6.0v6.0h-6.0zM251.5 505.5h6.0v6.0h-6.0zM257.2 505.8h6.0v6.0h-6.0zM262.9 506.2h6.0v6.0h-6.0zM268.7 506.5h6.0v6.0h-6.0zM274.4 506.9h6.0v6.0h-6.0zM280.1 507.3h6.0v6.0h-6.0zM285.8 507.6h6.0v6.0h-6.0zM291.6 507.9h6.0v6.0h-6.0zM297.3 508.1h6.0v6.0h-6.0zM303.0 508.3h6.0v6.0h-6.0zM308.7 508.4h6.0v6.0h-6.0zM314.4 508.5h6.0v6.0h-6.0zM320.2 508.5h6.0v6.0h-6.0zM325.9 508.3h6.0v6.0h-6.0zM331.6 508.0h6.0v6.0h-6.0zM337.3 507.5h6.0v6.0h-6.0zM343.0 506.7h6.0v6.0h-6.0zM348.8 505.3h6.0v6.0h-6.0zM354.5 503.6h6.0v6.0h-6.0zM360.2 501.8h6.0v6.0h-6.0zM365.9 499.7h6.0v6.0h-6.0zM371.7 497.5h6.0v6.0h-6.0zM377.4 495.0h6.0v6.0h-6.0zM383.1 492.1h6.0v6.0h-6.0zM388.8 489.0h6.0v6.0h-6.0zM394.5 486.1h6.0v6.0h-6.0zM400.3 483.2h6.0v6.0h-6.0zM406.0 480.6h6.0v6.0h-6.0zM411.7 478.0h6.0v6.0h-6.0zM417.4 475.1h6.0v6.0h-6.0zM423.1 471.9h6.0v6.0h-6.0zM428.9 469.8h6.0v6.0h-6.0zM434.6 468.1h6.0v6.0h-6.0zM440.3 466.6h6.0v6.0h-6.0zM446.0 465.0h6.0v6.0h-6.0zM451.7 463.2h6.0v6.0h-6.0zM457.5 461.1h6.0v6.0h-6.0zM463.2 459.0h6.0v6.0h-6.0zM468.9 456.8h6.0v6.0h-6.0zM474.6 454.6h6.0v6.0h-6.0zM480.4 452.3h6.0v6.0h-6.0zM486.1 450.0h6.0v6.0h-6.0zM491.8 447.7h6.0v6.0h-6.0zM497.5 445.3h6.0v6.0h-6.0zM503.2 443.0h6.0v6.0h-6.0zM509.0 440.4h6.0v6.0h-6.0zM514.7 437.5h6.0v6.0h-6.0zM520.4 434.4h6.0v6.0h-6.0z" fill="none" stroke="#cc0a1e" stroke-width="1.45"/><path d="M119.9 537.4h6.0v6.0h-6.0zM125.6 536.9h6.0v6.0h-6.0zM131.4 536.4h6.0v6.0h-6.0zM137.1 536.0h6.0v6.0h-6.0zM142.8 535.6h6.0v6.0h-6.0zM148.5 535.3h6.0v6.0h-6.0zM154.2 535.0h6.0v6.0h-6.0zM160.0 534.7h6.0v6.0h-6.0zM165.7 534.5h6.0v6.0h-6.0zM171.4 534.4h6.0v6.0h-6.0zM177.1 534.3h6.0v6.0h-6.0zM182.9 534.2h6.0v6.0h-6.0zM188.6 534.1h6.0v6.0h-6.0zM194.3 534.1h6.0v6.0h-6.0zM200.0 534.1h6.0v6.0h-6.0zM205.7 534.2h6.0v6.0h-6.0zM211.5 534.4h6.0v6.0h-6.0zM217.2 534.7h6.0v6.0h-6.0zM222.9 534.9h6.0v6.0h-6.0zM228.6 535.1h6.0v6.0h-6.0zM234.3 535.2h6.0v6.0h-6.0zM240.1 535.2h6.0v6.0h-6.0zM245.8 535.2h6.0v6.0h-6.0zM251.5 535.2h6.0v6.0h-6.0zM257.2 535.2h6.0v6.0h-6.0zM262.9 535.2h6.0v6.0h-6.0zM268.7 535.2h6.0v6.0h-6.0zM274.4 535.2h6.0v6.0h-6.0zM280.1 535.2h6.0v6.0h-6.0zM285.8 535.2h6.0v6.0h-6.0zM291.6 534.8h6.0v6.0h-6.0zM297.3 534.0h6.0v6.0h-6.0zM303.0 532.9h6.0v6.0h-6.0zM308.7 531.8h6.0v6.0h-6.0zM314.4 530.2h6.0v6.0h-6.0zM320.2 528.2h6.0v6.0h-6.0zM325.9 525.8h6.0v6.0h-6.0zM331.6 523.5h6.0v6.0h-6.0zM337.3 521.5h6.0v6.0h-6.0zM343.0 519.5h6.0v6.0h-6.0zM348.8 517.0h6.0v6.0h-6.0zM354.5 514.2h6.0v6.0h-6.0zM360.2 510.6h6.0v6.0h-6.0zM365.9 506.9h6.0v6.0h-6.0zM371.7 504.2h6.0v6.0h-6.0zM377.4 501.4h6.0v6.0h-6.0zM383.1 498.1h6.0v6.0h-6.0zM388.8 494.6h6.0v6.0h-6.0zM394.5 491.4h6.0v6.0h-6.0zM400.3 488.7h6.0v6.0h-6.0zM406.0 486.3h6.0v6.0h-6.0zM411.7 484.1h6.0v6.0h-6.0zM417.4 482.0h6.0v6.0h-6.0zM423.1 479.9h6.0v6.0h-6.0zM428.9 477.9h6.0v6.0h-6.0zM434.6 475.9h6.0v6.0h-6.0zM440.3 474.0h6.0v6.0h-6.0zM446.0 472.0h6.0v6.0h-6.0zM451.7 470.0h6.0v6.0h-6.0zM457.5 468.0h6.0v6.0h-6.0zM463.2 465.9h6.0v6.0h-6.0zM468.9 463.8h6.0v6.0h-6.0zM474.6 461.7h6.0v6.0h-6.0zM480.4 459.6h6.0v6.0h-6.0zM486.1 457.5h6.0v6.0h-6.0zM491.8 455.4h6.0v6.0h-6.0zM497.5 453.1h6.0v6.0h-6.0zM503.2 450.5h6.0v6.0h-6.0zM509.0 447.3h6.0v6.0h-6.0zM514.7 443.7h6.0v6.0h-6.0zM520.4 439.7h6.0v6.0h-6.0z" fill="none" stroke="#ff6010" stroke-width="1.45"/><path d="M119.9 569.6h6.0v6.0h-6.0zM125.6 569.5h6.0v6.0h-6.0zM131.4 569.4h6.0v6.0h-6.0zM137.1 569.3h6.0v6.0h-6.0zM142.8 569.2h6.0v6.0h-6.0zM148.5 569.1h6.0v6.0h-6.0zM154.2 569.1h6.0v6.0h-6.0zM160.0 569.0h6.0v6.0h-6.0zM165.7 568.9h6.0v6.0h-6.0zM171.4 568.8h6.0v6.0h-6.0zM177.1 568.7h6.0v6.0h-6.0zM182.9 568.6h6.0v6.0h-6.0zM188.6 568.6h6.0v6.0h-6.0zM194.3 568.5h6.0v6.0h-6.0zM200.0 568.4h6.0v6.0h-6.0zM205.7 568.3h6.0v6.0h-6.0zM211.5 568.2h6.0v6.0h-6.0zM217.2 568.1h6.0v6.0h-6.0zM222.9 568.0h6.0v6.0h-6.0zM228.6 567.8h6.0v6.0h-6.0zM234.3 567.7h6.0v6.0h-6.0zM240.1 567.4h6.0v6.0h-6.0zM245.8 566.9h6.0v6.0h-6.0zM251.5 566.3h6.0v6.0h-6.0zM257.2 565.4h6.0v6.0h-6.0zM262.9 564.0h6.0v6.0h-6.0zM268.7 562.3h6.0v6.0h-6.0zM274.4 560.7h6.0v6.0h-6.0zM280.1 558.9h6.0v6.0h-6.0zM285.8 556.5h6.0v6.0h-6.0zM291.6 553.9h6.0v6.0h-6.0zM297.3 551.7h6.0v6.0h-6.0zM303.0 549.4h6.0v6.0h-6.0zM308.7 546.6h6.0v6.0h-6.0zM314.4 543.6h6.0v6.0h-6.0zM320.2 540.6h6.0v6.0h-6.0zM325.9 537.5h6.0v6.0h-6.0zM331.6 534.4h6.0v6.0h-6.0zM337.3 531.4h6.0v6.0h-6.0zM343.0 528.3h6.0v6.0h-6.0zM348.8 525.2h6.0v6.0h-6.0zM354.5 522.3h6.0v6.0h-6.0zM360.2 519.7h6.0v6.0h-6.0zM365.9 517.3h6.0v6.0h-6.0zM371.7 514.8h6.0v6.0h-6.0zM377.4 512.2h6.0v6.0h-6.0zM383.1 509.2h6.0v6.0h-6.0zM388.8 506.1h6.0v6.0h-6.0zM394.5 503.2h6.0v6.0h-6.0zM400.3 500.5h6.0v6.0h-6.0zM406.0 498.1h6.0v6.0h-6.0zM411.7 495.7h6.0v6.0h-6.0zM417.4 493.4h6.0v6.0h-6.0zM423.1 491.0h6.0v6.0h-6.0zM428.9 488.6h6.0v6.0h-6.0zM434.6 486.3h6.0v6.0h-6.0zM440.3 483.9h6.0v6.0h-6.0zM446.0 481.5h6.0v6.0h-6.0zM451.7 479.0h6.0v6.0h-6.0zM457.5 476.6h6.0v6.0h-6.0zM463.2 474.1h6.0v6.0h-6.0zM468.9 471.6h6.0v6.0h-6.0zM474.6 469.1h6.0v6.0h-6.0zM480.4 466.6h6.0v6.0h-6.0zM486.1 464.2h6.0v6.0h-6.0zM491.8 461.7h6.0v6.0h-6.0zM497.5 459.1h6.0v6.0h-6.0zM503.2 456.2h6.0v6.0h-6.0zM509.0 452.8h6.0v6.0h-6.0zM514.7 449.1h6.0v6.0h-6.0zM520.4 445.1h6.0v6.0h-6.0z" fill="none" stroke="#ffd000" stroke-width="1.45"/><path d="M119.9 611.2h6.0v6.0h-6.0zM125.6 611.2h6.0v6.0h-6.0zM131.4 611.1h6.0v6.0h-6.0zM137.1 610.9h6.0v6.0h-6.0zM142.8 610.7h6.0v6.0h-6.0zM148.5 610.5h6.0v6.0h-6.0zM154.2 610.2h6.0v6.0h-6.0zM160.0 609.9h6.0v6.0h-6.0zM165.7 609.5h6.0v6.0h-6.0zM171.4 609.1h6.0v6.0h-6.0zM177.1 608.3h6.0v6.0h-6.0zM182.9 607.3h6.0v6.0h-6.0zM188.6 606.1h6.0v6.0h-6.0zM194.3 604.9h6.0v6.0h-6.0zM200.0 603.7h6.0v6.0h-6.0zM205.7 602.6h6.0v6.0h-6.0zM211.5 601.3h6.0v6.0h-6.0zM217.2 599.9h6.0v6.0h-6.0zM222.9 598.3h6.0v6.0h-6.0zM228.6 596.3h6.0v6.0h-6.0zM234.3 594.0h6.0v6.0h-6.0zM240.1 591.6h6.0v6.0h-6.0zM245.8 589.1h6.0v6.0h-6.0zM251.5 586.4h6.0v6.0h-6.0zM257.2 583.7h6.0v6.0h-6.0zM262.9 580.9h6.0v6.0h-6.0zM268.7 578.0h6.0v6.0h-6.0zM274.4 575.2h6.0v6.0h-6.0zM280.1 572.3h6.0v6.0h-6.0zM285.8 568.8h6.0v6.0h-6.0zM291.6 565.4h6.0v6.0h-6.0zM297.3 562.3h6.0v6.0h-6.0zM303.0 559.3h6.0v6.0h-6.0zM308.7 556.4h6.0v6.0h-6.0zM314.4 553.6h6.0v6.0h-6.0zM320.2 550.9h6.0v6.0h-6.0zM325.9 548.2h6.0v6.0h-6.0zM331.6 545.3h6.0v6.0h-6.0zM337.3 542.5h6.0v6.0h-6.0zM343.0 540.1h6.0v6.0h-6.0zM348.8 537.9h6.0v6.0h-6.0zM354.5 535.7h6.0v6.0h-6.0zM360.2 533.7h6.0v6.0h-6.0zM365.9 532.0h6.0v6.0h-6.0zM371.7 530.3h6.0v6.0h-6.0zM377.4 528.4h6.0v6.0h-6.0zM383.1 526.4h6.0v6.0h-6.0zM388.8 524.4h6.0v6.0h-6.0zM394.5 522.2h6.0v6.0h-6.0zM400.3 519.6h6.0v6.0h-6.0zM406.0 516.9h6.0v6.0h-6.0zM411.7 514.2h6.0v6.0h-6.0zM417.4 510.9h6.0v6.0h-6.0zM423.1 507.5h6.0v6.0h-6.0zM428.9 504.3h6.0v6.0h-6.0zM434.6 501.3h6.0v6.0h-6.0zM440.3 498.3h6.0v6.0h-6.0zM446.0 495.3h6.0v6.0h-6.0zM451.7 492.2h6.0v6.0h-6.0zM457.5 489.0h6.0v6.0h-6.0zM463.2 485.9h6.0v6.0h-6.0zM468.9 482.7h6.0v6.0h-6.0zM474.6 479.6h6.0v6.0h-6.0zM480.4 476.5h6.0v6.0h-6.0zM486.1 473.6h6.0v6.0h-6.0zM491.8 470.6h6.0v6.0h-6.0zM497.5 467.4h6.0v6.0h-6.0zM503.2 463.7h6.0v6.0h-6.0zM509.0 459.3h6.0v6.0h-6.0zM514.7 454.3h6.0v6.0h-6.0zM520.4 448.9h6.0v6.0h-6.0z" fill="none" stroke="#6ee83c" stroke-width="1.45"/><path d="M119.9 653.8h6.0v6.0h-6.0zM125.6 652.8h6.0v6.0h-6.0zM131.4 651.6h6.0v6.0h-6.0zM137.1 650.3h6.0v6.0h-6.0zM142.8 648.8h6.0v6.0h-6.0zM148.5 647.3h6.0v6.0h-6.0zM154.2 645.6h6.0v6.0h-6.0zM160.0 643.9h6.0v6.0h-6.0zM165.7 642.0h6.0v6.0h-6.0zM171.4 640.1h6.0v6.0h-6.0zM177.1 637.9h6.0v6.0h-6.0zM182.9 635.5h6.0v6.0h-6.0zM188.6 632.9h6.0v6.0h-6.0zM194.3 630.3h6.0v6.0h-6.0zM200.0 627.9h6.0v6.0h-6.0zM205.7 625.2h6.0v6.0h-6.0zM211.5 622.0h6.0v6.0h-6.0zM217.2 618.8h6.0v6.0h-6.0zM222.9 615.8h6.0v6.0h-6.0zM228.6 612.9h6.0v6.0h-6.0zM234.3 609.7h6.0v6.0h-6.0zM240.1 606.6h6.0v6.0h-6.0zM245.8 603.2h6.0v6.0h-6.0zM251.5 600.0h6.0v6.0h-6.0zM257.2 597.1h6.0v6.0h-6.0zM262.9 594.4h6.0v6.0h-6.0zM268.7 591.7h6.0v6.0h-6.0zM274.4 589.1h6.0v6.0h-6.0zM280.1 586.4h6.0v6.0h-6.0zM285.8 583.7h6.0v6.0h-6.0zM291.6 582.2h6.0v6.0h-6.0zM297.3 580.7h6.0v6.0h-6.0zM303.0 578.8h6.0v6.0h-6.0zM308.7 576.8h6.0v6.0h-6.0zM314.4 574.4h6.0v6.0h-6.0zM320.2 572.3h6.0v6.0h-6.0zM325.9 570.4h6.0v6.0h-6.0zM331.6 568.3h6.0v6.0h-6.0zM337.3 566.1h6.0v6.0h-6.0zM343.0 563.5h6.0v6.0h-6.0zM348.8 560.8h6.0v6.0h-6.0zM354.5 558.2h6.0v6.0h-6.0zM360.2 555.5h6.0v6.0h-6.0zM365.9 552.4h6.0v6.0h-6.0zM371.7 549.3h6.0v6.0h-6.0zM377.4 546.5h6.0v6.0h-6.0zM383.1 543.6h6.0v6.0h-6.0zM388.8 540.8h6.0v6.0h-6.0zM394.5 537.9h6.0v6.0h-6.0zM400.3 534.7h6.0v6.0h-6.0zM406.0 531.4h6.0v6.0h-6.0zM411.7 527.9h6.0v6.0h-6.0zM417.4 524.1h6.0v6.0h-6.0zM423.1 520.1h6.0v6.0h-6.0zM428.9 516.2h6.0v6.0h-6.0zM434.6 512.1h6.0v6.0h-6.0zM440.3 508.1h6.0v6.0h-6.0zM446.0 504.2h6.0v6.0h-6.0zM451.7 500.4h6.0v6.0h-6.0zM457.5 496.8h6.0v6.0h-6.0zM463.2 493.3h6.0v6.0h-6.0zM468.9 489.8h6.0v6.0h-6.0zM474.6 486.2h6.0v6.0h-6.0zM480.4 482.5h6.0v6.0h-6.0zM486.1 478.7h6.0v6.0h-6.0zM491.8 474.8h6.0v6.0h-6.0zM497.5 470.7h6.0v6.0h-6.0zM503.2 466.3h6.0v6.0h-6.0zM509.0 461.6h6.0v6.0h-6.0zM514.7 456.5h6.0v6.0h-6.0zM520.4 451.2h6.0v6.0h-6.0z" fill="none" stroke="#10c4f4" stroke-width="1.45"/><path d="M119.9 690.3h6.0v6.0h-6.0zM125.6 686.9h6.0v6.0h-6.0zM131.4 683.7h6.0v6.0h-6.0zM137.1 680.5h6.0v6.0h-6.0zM142.8 677.5h6.0v6.0h-6.0zM148.5 674.6h6.0v6.0h-6.0zM154.2 671.7h6.0v6.0h-6.0zM160.0 668.9h6.0v6.0h-6.0zM165.7 666.2h6.0v6.0h-6.0zM171.4 663.5h6.0v6.0h-6.0zM177.1 660.9h6.0v6.0h-6.0zM182.9 658.3h6.0v6.0h-6.0zM188.6 655.8h6.0v6.0h-6.0zM194.3 653.4h6.0v6.0h-6.0zM200.0 651.1h6.0v6.0h-6.0zM205.7 648.8h6.0v6.0h-6.0zM211.5 646.5h6.0v6.0h-6.0zM217.2 644.1h6.0v6.0h-6.0zM222.9 641.8h6.0v6.0h-6.0zM228.6 639.7h6.0v6.0h-6.0zM234.3 637.8h6.0v6.0h-6.0zM240.1 635.6h6.0v6.0h-6.0zM245.8 633.4h6.0v6.0h-6.0zM251.5 631.2h6.0v6.0h-6.0zM257.2 629.0h6.0v6.0h-6.0zM262.9 626.4h6.0v6.0h-6.0zM268.7 623.5h6.0v6.0h-6.0zM274.4 620.8h6.0v6.0h-6.0zM280.1 618.1h6.0v6.0h-6.0zM285.8 615.4h6.0v6.0h-6.0zM291.6 612.5h6.0v6.0h-6.0zM297.3 609.7h6.0v6.0h-6.0zM303.0 607.0h6.0v6.0h-6.0zM308.7 603.7h6.0v6.0h-6.0zM314.4 600.2h6.0v6.0h-6.0zM320.2 596.7h6.0v6.0h-6.0zM325.9 593.7h6.0v6.0h-6.0zM331.6 590.3h6.0v6.0h-6.0zM337.3 586.8h6.0v6.0h-6.0zM343.0 583.3h6.0v6.0h-6.0zM348.8 579.8h6.0v6.0h-6.0zM354.5 576.1h6.0v6.0h-6.0zM360.2 571.9h6.0v6.0h-6.0zM365.9 567.4h6.0v6.0h-6.0zM371.7 563.1h6.0v6.0h-6.0zM377.4 559.0h6.0v6.0h-6.0zM383.1 555.0h6.0v6.0h-6.0zM388.8 551.2h6.0v6.0h-6.0zM394.5 547.4h6.0v6.0h-6.0zM400.3 543.7h6.0v6.0h-6.0zM406.0 539.8h6.0v6.0h-6.0zM411.7 535.3h6.0v6.0h-6.0zM417.4 530.5h6.0v6.0h-6.0zM423.1 525.9h6.0v6.0h-6.0zM428.9 521.6h6.0v6.0h-6.0zM434.6 517.4h6.0v6.0h-6.0zM440.3 513.3h6.0v6.0h-6.0zM446.0 509.3h6.0v6.0h-6.0zM451.7 505.2h6.0v6.0h-6.0zM457.5 501.1h6.0v6.0h-6.0zM463.2 497.0h6.0v6.0h-6.0zM468.9 493.0h6.0v6.0h-6.0zM474.6 489.0h6.0v6.0h-6.0zM480.4 485.1h6.0v6.0h-6.0zM486.1 481.5h6.0v6.0h-6.0zM491.8 477.9h6.0v6.0h-6.0zM497.5 474.0h6.0v6.0h-6.0zM503.2 469.7h6.0v6.0h-6.0zM509.0 464.8h6.0v6.0h-6.0zM514.7 459.3h6.0v6.0h-6.0zM520.4 453.5h6.0v6.0h-6.0z" fill="none" stroke="#1a08f0" stroke-width="1.45"/><path d="M119.9 730.7h6.0v6.0h-6.0zM125.6 728.6h6.0v6.0h-6.0zM131.4 726.3h6.0v6.0h-6.0zM137.1 723.9h6.0v6.0h-6.0zM142.8 721.4h6.0v6.0h-6.0zM148.5 718.7h6.0v6.0h-6.0zM154.2 715.9h6.0v6.0h-6.0zM160.0 712.8h6.0v6.0h-6.0zM165.7 709.6h6.0v6.0h-6.0zM171.4 706.3h6.0v6.0h-6.0zM177.1 703.0h6.0v6.0h-6.0zM182.9 699.6h6.0v6.0h-6.0zM188.6 696.2h6.0v6.0h-6.0zM194.3 692.6h6.0v6.0h-6.0zM200.0 688.9h6.0v6.0h-6.0zM205.7 685.0h6.0v6.0h-6.0zM211.5 681.1h6.0v6.0h-6.0zM217.2 677.3h6.0v6.0h-6.0zM222.9 673.5h6.0v6.0h-6.0zM228.6 669.8h6.0v6.0h-6.0zM234.3 666.2h6.0v6.0h-6.0zM240.1 662.5h6.0v6.0h-6.0zM245.8 658.7h6.0v6.0h-6.0zM251.5 654.8h6.0v6.0h-6.0zM257.2 650.8h6.0v6.0h-6.0zM262.9 646.8h6.0v6.0h-6.0zM268.7 642.8h6.0v6.0h-6.0zM274.4 638.8h6.0v6.0h-6.0zM280.1 634.8h6.0v6.0h-6.0zM285.8 630.9h6.0v6.0h-6.0zM291.6 626.9h6.0v6.0h-6.0zM297.3 623.0h6.0v6.0h-6.0zM303.0 619.3h6.0v6.0h-6.0zM308.7 615.4h6.0v6.0h-6.0zM314.4 611.4h6.0v6.0h-6.0zM320.2 607.0h6.0v6.0h-6.0zM325.9 602.8h6.0v6.0h-6.0zM331.6 598.4h6.0v6.0h-6.0zM337.3 593.8h6.0v6.0h-6.0zM343.0 589.0h6.0v6.0h-6.0zM348.8 584.1h6.0v6.0h-6.0zM354.5 579.0h6.0v6.0h-6.0zM360.2 573.9h6.0v6.0h-6.0zM365.9 569.0h6.0v6.0h-6.0zM371.7 564.4h6.0v6.0h-6.0zM377.4 560.5h6.0v6.0h-6.0zM383.1 557.2h6.0v6.0h-6.0zM388.8 554.2h6.0v6.0h-6.0zM394.5 551.2h6.0v6.0h-6.0zM400.3 547.7h6.0v6.0h-6.0zM406.0 543.9h6.0v6.0h-6.0zM411.7 539.8h6.0v6.0h-6.0zM417.4 535.7h6.0v6.0h-6.0zM423.1 531.6h6.0v6.0h-6.0zM428.9 527.5h6.0v6.0h-6.0zM434.6 523.4h6.0v6.0h-6.0zM440.3 519.3h6.0v6.0h-6.0zM446.0 515.1h6.0v6.0h-6.0zM451.7 510.9h6.0v6.0h-6.0zM457.5 506.6h6.0v6.0h-6.0zM463.2 502.3h6.0v6.0h-6.0zM468.9 498.0h6.0v6.0h-6.0zM474.6 493.6h6.0v6.0h-6.0zM480.4 489.4h6.0v6.0h-6.0zM486.1 485.2h6.0v6.0h-6.0zM491.8 481.1h6.0v6.0h-6.0zM497.5 476.7h6.0v6.0h-6.0zM503.2 472.0h6.0v6.0h-6.0zM509.0 466.7h6.0v6.0h-6.0zM514.7 461.0h6.0v6.0h-6.0zM520.4 455.0h6.0v6.0h-6.0z" fill="none" stroke="#8c14f5" stroke-width="1.45"/><path d="M119.9 756.5h6.0v6.0h-6.0zM125.6 752.1h6.0v6.0h-6.0zM131.4 747.7h6.0v6.0h-6.0zM137.1 743.4h6.0v6.0h-6.0zM142.8 739.1h6.0v6.0h-6.0zM148.5 734.9h6.0v6.0h-6.0zM154.2 730.7h6.0v6.0h-6.0zM160.0 726.5h6.0v6.0h-6.0zM165.7 722.4h6.0v6.0h-6.0zM171.4 718.4h6.0v6.0h-6.0zM177.1 714.4h6.0v6.0h-6.0zM182.9 710.3h6.0v6.0h-6.0zM188.6 706.0h6.0v6.0h-6.0zM194.3 701.5h6.0v6.0h-6.0zM200.0 697.1h6.0v6.0h-6.0zM205.7 692.8h6.0v6.0h-6.0zM211.5 688.6h6.0v6.0h-6.0zM217.2 684.4h6.0v6.0h-6.0zM222.9 680.0h6.0v6.0h-6.0zM228.6 675.5h6.0v6.0h-6.0zM234.3 671.0h6.0v6.0h-6.0zM240.1 666.4h6.0v6.0h-6.0zM245.8 662.0h6.0v6.0h-6.0zM251.5 657.7h6.0v6.0h-6.0zM257.2 653.4h6.0v6.0h-6.0zM262.9 649.2h6.0v6.0h-6.0zM268.7 645.1h6.0v6.0h-6.0zM274.4 641.0h6.0v6.0h-6.0zM280.1 636.9h6.0v6.0h-6.0zM285.8 632.9h6.0v6.0h-6.0zM291.6 628.8h6.0v6.0h-6.0zM297.3 624.7h6.0v6.0h-6.0zM303.0 620.5h6.0v6.0h-6.0zM308.7 616.3h6.0v6.0h-6.0zM314.4 612.1h6.0v6.0h-6.0zM320.2 607.8h6.0v6.0h-6.0zM325.9 603.4h6.0v6.0h-6.0zM331.6 599.0h6.0v6.0h-6.0zM337.3 594.4h6.0v6.0h-6.0zM343.0 589.8h6.0v6.0h-6.0zM348.8 585.1h6.0v6.0h-6.0zM354.5 580.3h6.0v6.0h-6.0zM360.2 575.5h6.0v6.0h-6.0zM365.9 570.8h6.0v6.0h-6.0zM371.7 566.4h6.0v6.0h-6.0zM377.4 562.4h6.0v6.0h-6.0zM383.1 558.8h6.0v6.0h-6.0zM388.8 555.5h6.0v6.0h-6.0zM394.5 552.1h6.0v6.0h-6.0zM400.3 548.3h6.0v6.0h-6.0zM406.0 544.4h6.0v6.0h-6.0zM411.7 540.3h6.0v6.0h-6.0zM417.4 536.1h6.0v6.0h-6.0zM423.1 532.0h6.0v6.0h-6.0zM428.9 527.9h6.0v6.0h-6.0zM434.6 523.8h6.0v6.0h-6.0zM440.3 519.7h6.0v6.0h-6.0zM446.0 515.5h6.0v6.0h-6.0zM451.7 511.3h6.0v6.0h-6.0zM457.5 507.0h6.0v6.0h-6.0zM463.2 502.7h6.0v6.0h-6.0zM468.9 498.3h6.0v6.0h-6.0zM474.6 494.0h6.0v6.0h-6.0zM480.4 489.8h6.0v6.0h-6.0zM486.1 485.7h6.0v6.0h-6.0zM491.8 481.5h6.0v6.0h-6.0zM497.5 477.1h6.0v6.0h-6.0zM503.2 472.3h6.0v6.0h-6.0zM509.0 467.0h6.0v6.0h-6.0zM514.7 461.2h6.0v6.0h-6.0zM520.4 455.0h6.0v6.0h-6.0z" fill="none" stroke="#b414e6" stroke-width="1.45"/><rect x="69.6" y="430.5" width="468.7" height="343.7" fill="none" stroke="#000" stroke-width="1.4"/><path d="M71.40 774.20v-6.2M71.40 430.50v6.2M86.52 774.20v-3.4M86.52 430.50v3.4M95.36 774.20v-3.4M95.36 430.50v3.4M101.64 774.20v-3.4M101.64 430.50v3.4M106.50 774.20v-3.4M106.50 430.50v3.4M110.48 774.20v-3.4M110.48 430.50v3.4M113.84 774.20v-3.4M113.84 430.50v3.4M116.75 774.20v-3.4M116.75 430.50v3.4M119.32 774.20v-3.4M119.32 430.50v3.4M121.62 774.20v-6.2M121.62 430.50v6.2M136.74 774.20v-3.4M136.74 430.50v3.4M145.58 774.20v-3.4M145.58 430.50v3.4M151.86 774.20v-3.4M151.86 430.50v3.4M156.72 774.20v-3.4M156.72 430.50v3.4M160.70 774.20v-3.4M160.70 430.50v3.4M164.06 774.20v-3.4M164.06 430.50v3.4M166.97 774.20v-3.4M166.97 430.50v3.4M169.54 774.20v-3.4M169.54 430.50v3.4M171.84 774.20v-6.2M171.84 430.50v6.2M186.96 774.20v-3.4M186.96 430.50v3.4M195.80 774.20v-3.4M195.80 430.50v3.4M202.08 774.20v-3.4M202.08 430.50v3.4M206.94 774.20v-3.4M206.94 430.50v3.4M210.92 774.20v-3.4M210.92 430.50v3.4M214.28 774.20v-3.4M214.28 430.50v3.4M217.19 774.20v-3.4M217.19 430.50v3.4M219.76 774.20v-3.4M219.76 430.50v3.4M222.06 774.20v-6.2M222.06 430.50v6.2M237.18 774.20v-3.4M237.18 430.50v3.4M246.02 774.20v-3.4M246.02 430.50v3.4M252.30 774.20v-3.4M252.30 430.50v3.4M257.16 774.20v-3.4M257.16 430.50v3.4M261.14 774.20v-3.4M261.14 430.50v3.4M264.50 774.20v-3.4M264.50 430.50v3.4M267.41 774.20v-3.4M267.41 430.50v3.4M269.98 774.20v-3.4M269.98 430.50v3.4M272.28 774.20v-6.2M272.28 430.50v6.2M287.40 774.20v-3.4M287.40 430.50v3.4M296.24 774.20v-3.4M296.24 430.50v3.4M302.52 774.20v-3.4M302.52 430.50v3.4M307.38 774.20v-3.4M307.38 430.50v3.4M311.36 774.20v-3.4M311.36 430.50v3.4M314.72 774.20v-3.4M314.72 430.50v3.4M317.63 774.20v-3.4M317.63 430.50v3.4M320.20 774.20v-3.4M320.20 430.50v3.4M322.50 774.20v-6.2M322.50 430.50v6.2M337.62 774.20v-3.4M337.62 430.50v3.4M346.46 774.20v-3.4M346.46 430.50v3.4M352.74 774.20v-3.4M352.74 430.50v3.4M357.60 774.20v-3.4M357.60 430.50v3.4M361.58 774.20v-3.4M361.58 430.50v3.4M364.94 774.20v-3.4M364.94 430.50v3.4M367.85 774.20v-3.4M367.85 430.50v3.4M370.42 774.20v-3.4M370.42 430.50v3.4M372.72 774.20v-6.2M372.72 430.50v6.2M387.84 774.20v-3.4M387.84 430.50v3.4M396.68 774.20v-3.4M396.68 430.50v3.4M402.96 774.20v-3.4M402.96 430.50v3.4M407.82 774.20v-3.4M407.82 430.50v3.4M411.80 774.20v-3.4M411.80 430.50v3.4M415.16 774.20v-3.4M415.16 430.50v3.4M418.07 774.20v-3.4M418.07 430.50v3.4M420.64 774.20v-3.4M420.64 430.50v3.4M422.94 774.20v-6.2M422.94 430.50v6.2M438.06 774.20v-3.4M438.06 430.50v3.4M446.90 774.20v-3.4M446.90 430.50v3.4M453.18 774.20v-3.4M453.18 430.50v3.4M458.04 774.20v-3.4M458.04 430.50v3.4M462.02 774.20v-3.4M462.02 430.50v3.4M465.38 774.20v-3.4M465.38 430.50v3.4M468.29 774.20v-3.4M468.29 430.50v3.4M470.86 774.20v-3.4M470.86 430.50v3.4M473.16 774.20v-6.2M473.16 430.50v6.2M488.28 774.20v-3.4M488.28 430.50v3.4M497.12 774.20v-3.4M497.12 430.50v3.4M503.40 774.20v-3.4M503.40 430.50v3.4M508.26 774.20v-3.4M508.26 430.50v3.4M512.24 774.20v-3.4M512.24 430.50v3.4M515.60 774.20v-3.4M515.60 430.50v3.4M518.51 774.20v-3.4M518.51 430.50v3.4M521.08 774.20v-3.4M521.08 430.50v3.4M523.38 774.20v-6.2M523.38 430.50v6.2M69.60 762.70h3.4M538.30 762.70h-3.4M69.60 755.98h3.4M538.30 755.98h-3.4M69.60 751.21h3.4M538.30 751.21h-3.4M69.60 747.51h3.4M538.30 747.51h-3.4M69.60 744.48h3.4M538.30 744.48h-3.4M69.60 741.93h3.4M538.30 741.93h-3.4M69.60 739.71h3.4M538.30 739.71h-3.4M69.60 737.76h3.4M538.30 737.76h-3.4M69.60 736.01h6.2M538.30 736.01h-6.2M69.60 724.52h3.4M538.30 724.52h-3.4M69.60 717.79h3.4M538.30 717.79h-3.4M69.60 713.02h3.4M538.30 713.02h-3.4M69.60 709.32h3.4M538.30 709.32h-3.4M69.60 706.29h3.4M538.30 706.29h-3.4M69.60 703.74h3.4M538.30 703.74h-3.4M69.60 701.52h3.4M538.30 701.52h-3.4M69.60 699.57h3.4M538.30 699.57h-3.4M69.60 697.82h6.2M538.30 697.82h-6.2M69.60 686.33h3.4M538.30 686.33h-3.4M69.60 679.60h3.4M538.30 679.60h-3.4M69.60 674.83h3.4M538.30 674.83h-3.4M69.60 671.13h3.4M538.30 671.13h-3.4M69.60 668.11h3.4M538.30 668.11h-3.4M69.60 665.55h3.4M538.30 665.55h-3.4M69.60 663.33h3.4M538.30 663.33h-3.4M69.60 661.38h3.4M538.30 661.38h-3.4M69.60 659.63h6.2M538.30 659.63h-6.2M69.60 648.14h3.4M538.30 648.14h-3.4M69.60 641.41h3.4M538.30 641.41h-3.4M69.60 636.64h3.4M538.30 636.64h-3.4M69.60 632.94h3.4M538.30 632.94h-3.4M69.60 629.92h3.4M538.30 629.92h-3.4M69.60 627.36h3.4M538.30 627.36h-3.4M69.60 625.15h3.4M538.30 625.15h-3.4M69.60 623.19h3.4M538.30 623.19h-3.4M69.60 621.44h6.2M538.30 621.44h-6.2M69.60 609.95h3.4M538.30 609.95h-3.4M69.60 603.22h3.4M538.30 603.22h-3.4M69.60 598.45h3.4M538.30 598.45h-3.4M69.60 594.75h3.4M538.30 594.75h-3.4M69.60 591.73h3.4M538.30 591.73h-3.4M69.60 589.17h3.4M538.30 589.17h-3.4M69.60 586.96h3.4M538.30 586.96h-3.4M69.60 585.00h3.4M538.30 585.00h-3.4M69.60 583.26h6.2M538.30 583.26h-6.2M69.60 571.76h3.4M538.30 571.76h-3.4M69.60 565.03h3.4M538.30 565.03h-3.4M69.60 560.26h3.4M538.30 560.26h-3.4M69.60 556.56h3.4M538.30 556.56h-3.4M69.60 553.54h3.4M538.30 553.54h-3.4M69.60 550.98h3.4M538.30 550.98h-3.4M69.60 548.77h3.4M538.30 548.77h-3.4M69.60 546.81h3.4M538.30 546.81h-3.4M69.60 545.07h6.2M538.30 545.07h-6.2M69.60 533.57h3.4M538.30 533.57h-3.4M69.60 526.85h3.4M538.30 526.85h-3.4M69.60 522.07h3.4M538.30 522.07h-3.4M69.60 518.37h3.4M538.30 518.37h-3.4M69.60 515.35h3.4M538.30 515.35h-3.4M69.60 512.79h3.4M538.30 512.79h-3.4M69.60 510.58h3.4M538.30 510.58h-3.4M69.60 508.63h3.4M538.30 508.63h-3.4M69.60 506.88h6.2M538.30 506.88h-6.2M69.60 495.38h3.4M538.30 495.38h-3.4M69.60 488.66h3.4M538.30 488.66h-3.4M69.60 483.89h3.4M538.30 483.89h-3.4M69.60 480.18h3.4M538.30 480.18h-3.4M69.60 477.16h3.4M538.30 477.16h-3.4M69.60 474.60h3.4M538.30 474.60h-3.4M69.60 472.39h3.4M538.30 472.39h-3.4M69.60 470.44h3.4M538.30 470.44h-3.4M69.60 468.69h6.2M538.30 468.69h-6.2M69.60 457.19h3.4M538.30 457.19h-3.4M69.60 450.47h3.4M538.30 450.47h-3.4M69.60 445.70h3.4M538.30 445.70h-3.4M69.60 442.00h3.4M538.30 442.00h-3.4M69.60 438.97h3.4M538.30 438.97h-3.4M69.60 436.42h3.4M538.30 436.42h-3.4M69.60 434.20h3.4M538.30 434.20h-3.4M69.60 432.25h3.4M538.30 432.25h-3.4" stroke="#000" stroke-width="1.2" fill="none"/><text x="71.4" y="794.9" text-anchor="middle" class="tl">-2</text><text x="121.6" y="794.9" text-anchor="middle" class="tl">-1</text><text x="171.8" y="794.9" text-anchor="middle" class="tl">0</text><text x="222.1" y="794.9" text-anchor="middle" class="tl">1</text><text x="272.3" y="794.9" text-anchor="middle" class="tl">2</text><text x="322.5" y="794.9" text-anchor="middle" class="tl">3</text><text x="372.7" y="794.9" text-anchor="middle" class="tl">4</text><text x="422.9" y="794.9" text-anchor="middle" class="tl">5</text><text x="473.2" y="794.9" text-anchor="middle" class="tl">6</text><text x="523.4" y="794.9" text-anchor="middle" class="tl">7</text><text x="61.2" y="780.2" text-anchor="end" class="tl">-12</text><text x="61.2" y="741.9" text-anchor="end" class="tl">-11</text><text x="61.2" y="703.6" text-anchor="end" class="tl">-10</text><text x="61.2" y="665.3" text-anchor="end" class="tl">-9</text><text x="61.2" y="627.0" text-anchor="end" class="tl">-8</text><text x="61.2" y="588.7" text-anchor="end" class="tl">-7</text><text x="61.2" y="550.4" text-anchor="end" class="tl">-6</text><text x="61.2" y="512.1" text-anchor="end" class="tl">-5</text><text x="61.2" y="473.8" text-anchor="end" class="tl">-4</text><text x="61.2" y="435.5" text-anchor="end" class="tl">-3</text><rect x="446" y="617" width="80.4" height="146" fill="#fff" stroke="#999" stroke-width="1.1"/><rect x="461.4" y="623.4" width="6.6" height="6.6" fill="none" stroke="#cc0a1e" stroke-width="1.45"/><text x="524.2" y="631.7" text-anchor="end" class="lg">473 K</text><rect x="461.4" y="641.4" width="6.6" height="6.6" fill="none" stroke="#ff6010" stroke-width="1.45"/><text x="524.2" y="649.8" text-anchor="end" class="lg">423 K</text><rect x="461.4" y="659.5" width="6.6" height="6.6" fill="none" stroke="#ffd000" stroke-width="1.45"/><text x="524.2" y="667.8" text-anchor="end" class="lg">373 K</text><rect x="461.4" y="677.5" width="6.6" height="6.6" fill="none" stroke="#6ee83c" stroke-width="1.45"/><text x="524.2" y="685.9" text-anchor="end" class="lg">323 K</text><rect x="461.4" y="695.6" width="6.6" height="6.6" fill="none" stroke="#10c4f4" stroke-width="1.45"/><text x="524.2" y="703.9" text-anchor="end" class="lg">273 K</text><rect x="461.4" y="713.6" width="6.6" height="6.6" fill="none" stroke="#1a08f0" stroke-width="1.45"/><text x="524.2" y="722.0" text-anchor="end" class="lg">223 K</text><rect x="461.4" y="731.7" width="6.6" height="6.6" fill="none" stroke="#8c14f5" stroke-width="1.45"/><text x="524.2" y="740.0" text-anchor="end" class="lg">173 K</text><rect x="461.4" y="749.7" width="6.6" height="6.6" fill="none" stroke="#b414e6" stroke-width="1.45"/><text x="524.2" y="758.1" text-anchor="end" class="lg">123 K</text><text x="89.4" y="455.9" class="pl">b<tspan dx="0.8">)</tspan></text><path d="M268.9 829.9C270.2 831.1 271.6 830.1 272.3 827.7L276.3 813.5C276.9 811.5 277.9 810.3 279.0 810.4C279.8 810.5 280.3 811.0 280.3 811.6" fill="none" stroke="#000" stroke-width="1.55"/><circle cx="279.9" cy="811.8" r="1.1"/><circle cx="269.1" cy="829.7" r="1.05"/><path d="M272.6 815.9H277.6" stroke="#000" stroke-width="1.2"/><text x="298.6" y="826.2" class="hz">(Hz)</text><text transform="translate(25.0 650.8) rotate(-90)" class="yl">-<tspan dx="0.6">σ</tspan><tspan dx="0.8">''</tspan></text><text transform="translate(25.0 607.4) rotate(-90)" class="yl" font-style="italic">(Scm<tspan font-size="13" dy="-8.5">-1</tspan><tspan dy="8.5">)</tspan></text>
</svg></body></html>
